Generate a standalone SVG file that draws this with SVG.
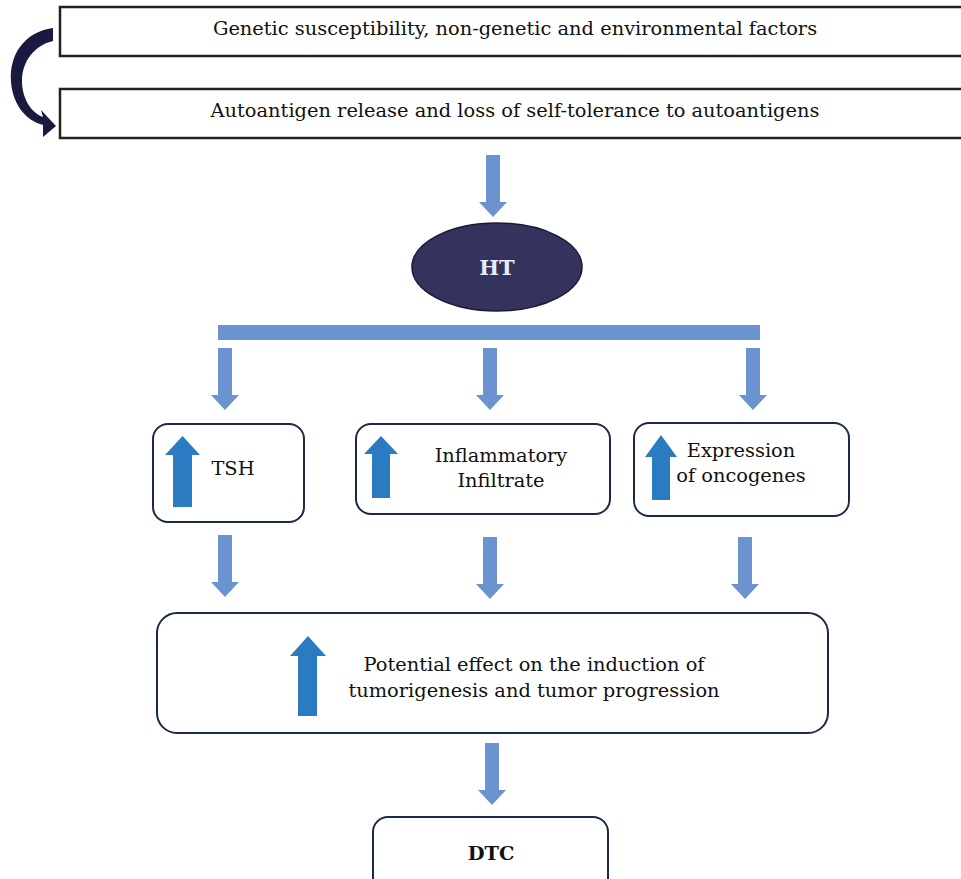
<svg xmlns="http://www.w3.org/2000/svg" width="961" height="879" viewBox="0 0 961 879">
<defs>
<style>
.t{font-family:"DejaVu Serif","Liberation Serif",serif;font-size:19.4px;fill:#111;text-anchor:middle}
.bar{fill:none;stroke:#222;stroke-width:2.5}
.rb{fill:#fff;stroke:#1c2a48;stroke-width:2}
.da{fill:#6b93cf}
.ua{fill:#2b7bc2}
</style>
<path id="down" d="M-7,0 H7 V47 H14 L0,62 L-14,47 H-7 Z"/>
</defs>
<rect width="961" height="879" fill="#fff"/>
<g id="n1"><rect class="bar" x="60" y="7" width="910" height="49" fill="#fff"/><text class="t" x="515" y="35">Genetic susceptibility, non-genetic and environmental factors</text></g>
<g id="n2"><rect class="bar" x="60" y="89" width="910" height="49" fill="#fff"/><text class="t" x="515" y="117">Autoantigen release and loss of self-tolerance to autoantigens</text></g>
<g id="ht"><ellipse cx="497" cy="267" rx="85" ry="44" fill="#33335e" stroke="#1a1a38" stroke-width="1.5"/><text class="t" x="497" y="275" style="fill:#e8ecf8;font-weight:bold;font-size:21px">HT</text></g>
<g id="tsh"><rect class="rb" x="153" y="424" width="151" height="98" rx="15"/><path class="ua" d="M173,507 V455 H165 L182.5,436 L200,455 H192 V507 Z"/><text class="t" x="233" y="475">TSH</text></g>
<g id="inf"><rect class="rb" x="356" y="424" width="254" height="90" rx="15"/><path class="ua" d="M372,498 V454 H364 L381,436 L398,454 H390 V498 Z"/><text class="t" x="501" y="462">Inflammatory</text><text class="t" x="501" y="487">Infiltrate</text></g>
<g id="onc"><rect class="rb" x="634" y="423" width="215" height="93" rx="15"/><path class="ua" d="M652,500 V457 H645 L661,435 L677,457 H670 V500 Z"/><text class="t" x="741" y="457">Expression</text><text class="t" x="741" y="482">of oncogenes</text></g>
<g id="eff"><rect class="rb" x="157" y="613" width="671" height="120" rx="20"/><path class="ua" d="M298,716 V656 H290 L308,636 L326,656 H317 V716 Z"/><text class="t" x="534" y="671">Potential effect on the induction of</text><text class="t" x="534" y="697">tumorigenesis and tumor progression</text></g>
<g id="dtc"><rect class="rb" x="373" y="817" width="235" height="80" rx="15"/><text class="t" x="491" y="860" style="font-weight:bold">DTC</text></g>
<g id="connectors">
<path d="M53,28 C24,32 9,55 11,82 C13,106 27,121 43,125 L43,137 L56,126 L41,110 L43,117 C30,112 22,97 22,81 C22,61 35,45 53,41 Z" fill="#1a1a40"/>
<use href="#down" class="da" x="493" y="155"/>
<rect class="da" x="218" y="325" width="542" height="15"/>
<use href="#down" class="da" x="225" y="348"/>
<use href="#down" class="da" x="490" y="348"/>
<use href="#down" class="da" x="753" y="348"/>
<use href="#down" class="da" x="225" y="535"/>
<use href="#down" class="da" x="490" y="537"/>
<use href="#down" class="da" x="745" y="537"/>
<use href="#down" class="da" x="492" y="743"/>
</g>
</svg>
